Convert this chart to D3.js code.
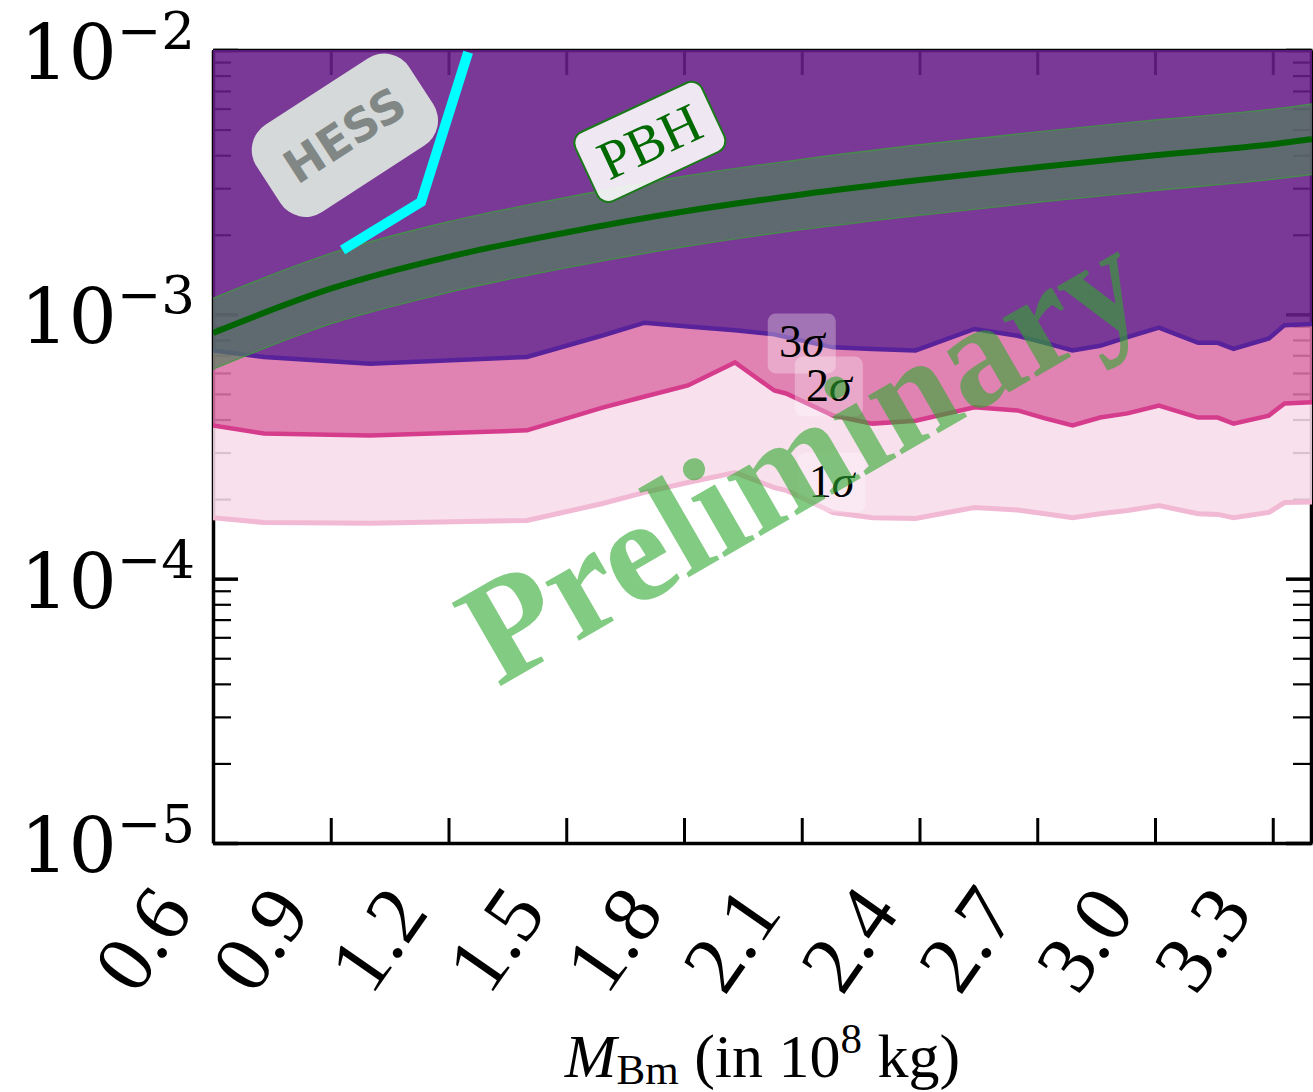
<!DOCTYPE html>
<html>
<head>
<meta charset="utf-8">
<script src="https://cdn.jsdelivr.net/npm/d3@7"></script>
<style>
  body { margin: 0; background: #fff; }
  svg { display: block; }
</style>
</head>
<body>
<svg id="chart"></svg>
<script>
// ---- data ----
const massX  = [0.60, 0.73, 1.00, 1.40, 1.59, 1.70, 1.81, 1.93, 2.03, 2.06, 2.18, 2.28, 2.39,
                2.54, 2.65, 2.72, 2.79, 2.86, 2.93, 3.01, 3.11, 3.16, 3.20, 3.29, 3.33, 3.40];
const sigma3 = [7.3e-4, 6.9e-4, 6.5e-4, 6.9e-4, 8.3e-4, 9.3e-4, 9.0e-4, 8.7e-4, 8.4e-4, 8.2e-4, 7.5e-4, 7.4e-4, 7.3e-4,
                8.8e-4, 8.3e-4, 7.8e-4, 7.3e-4, 7.6e-4, 8.2e-4, 8.9e-4, 7.8e-4, 7.8e-4, 7.4e-4, 8.1e-4, 9.1e-4, 9.2e-4];
const sigma2 = [3.80e-4, 3.54e-4, 3.48e-4, 3.64e-4, 4.43e-4, 4.89e-4, 5.38e-4, 6.58e-4, 5.15e-4, 5.02e-4, 4.14e-4, 3.86e-4, 3.96e-4,
                4.45e-4, 4.33e-4, 4.04e-4, 3.80e-4, 4.07e-4, 4.22e-4, 4.52e-4, 4.07e-4, 4.07e-4, 3.86e-4, 4.14e-4, 4.60e-4, 4.65e-4];
const sigma1 = [1.70e-4, 1.63e-4, 1.62e-4, 1.66e-4, 1.92e-4, 2.12e-4, 2.31e-4, 2.52e-4, 2.21e-4, 2.16e-4, 1.78e-4, 1.70e-4, 1.69e-4,
                1.86e-4, 1.82e-4, 1.76e-4, 1.70e-4, 1.76e-4, 1.81e-4, 1.89e-4, 1.76e-4, 1.75e-4, 1.70e-4, 1.78e-4, 1.94e-4, 1.95e-4];

const pbhX     = [0.6, 0.9, 1.2, 1.5, 1.8, 2.1, 2.4, 2.7, 3.0, 3.3, 3.4];
const pbhMid   = [8.5e-4, 1.25e-3, 1.65e-3, 2.04e-3, 2.45e-3, 2.84e-3, 3.22e-3, 3.60e-3, 4.00e-3, 4.40e-3, 4.60e-3];
const pbhUpper = [1.15e-3, 1.70e-3, 2.24e-3, 2.77e-3, 3.33e-3, 3.86e-3, 4.38e-3, 4.90e-3, 5.44e-3, 5.98e-3, 6.26e-3];
const pbhLower = [6.2e-4, 9.2e-4, 1.21e-3, 1.50e-3, 1.80e-3, 2.09e-3, 2.37e-3, 2.65e-3, 2.94e-3, 3.24e-3, 3.38e-3];

const hessX = [0.93, 1.13, 1.25];
const hessY = [1.75e-3, 2.66e-3, 9.8e-3];

const xTicks = [0.6, 0.9, 1.2, 1.5, 1.8, 2.1, 2.4, 2.7, 3.0, 3.3];
const xTickLabels = ['0.6', '0.9', '1.2', '1.5', '1.8', '2.1', '2.4', '2.7', '3.0', '3.3'];
const yTicks = [1e-5, 1e-4, 1e-3, 1e-2];
const yTickExp = ['\u22125', '\u22124', '\u22123', '\u22122'];

// ---- setup ----
const W = 1313, H = 1092;
const svg = d3.select('#chart').attr('width', W).attr('height', H);

const x = d3.scaleLinear().domain([0.6, 3.4]).range([213, 1312]);
const y = d3.scaleLog().domain([1e-5, 1e-2]).range([843, 50]);

const yMinor = [];
yTicks.slice(0, -1).forEach(d => { for (let k = 2; k < 10; k++) yMinor.push(d * k); });

svg.append('clipPath').attr('id', 'plot-clip')
  .append('rect')
  .attr('x', x(0.6)).attr('y', y(1e-2))
  .attr('width', x(3.4) - x(0.6)).attr('height', y(1e-5) - y(1e-2));

// ---- axes (drawn first, fills sit over them) ----
function styleAxis(g, tw) {
  g.select('.domain').attr('stroke', '#000').attr('stroke-width', 3.5);
  g.selectAll('.tick line').attr('stroke', '#000').attr('stroke-width', tw);
}

const xAxisG = svg.append('g')
  .attr('transform', `translate(0,${y(1e-5)})`)
  .call(d3.axisBottom(x).tickValues(xTicks).tickSizeInner(-25).tickSizeOuter(0)
    .tickFormat((d, i) => xTickLabels[i]));
styleAxis(xAxisG, 3);
xAxisG.selectAll('.tick text')
  .attr('x', 0).attr('y', 0).attr('dy', 0)
  .attr('text-anchor', 'end')
  .attr('transform', 'translate(-19,70) rotate(-55)')
  .attr('fill', '#000')
  .style('font-family', '"Liberation Serif", "Times New Roman", serif')
  .style('font-size', '82px');

const topAxisG = svg.append('g')
  .attr('transform', `translate(0,${y(1e-2)})`)
  .call(d3.axisTop(x).tickValues(xTicks).tickSizeInner(-25).tickSizeOuter(0).tickFormat(''));
styleAxis(topAxisG, 3);

[['left', x(0.6)], ['right', x(3.4) - 1]].forEach(([side, px]) => {
  const mk = side === 'left' ? d3.axisLeft : d3.axisRight;
  const gMaj = svg.append('g').attr('transform', `translate(${px},0)`)
    .call(mk(y).tickValues(yTicks).tickSizeInner(-25).tickSizeOuter(0).tickFormat(''));
  styleAxis(gMaj, 3.5);
  const gMin = svg.append('g').attr('transform', `translate(${px},0)`)
    .call(mk(y).tickValues(yMinor).tickSizeInner(-18).tickSizeOuter(0).tickFormat(''));
  styleAxis(gMin, 2.2);
  gMin.select('.domain').remove();
});

// y tick labels 10^k
const yLab = svg.append('g');
yTicks.forEach((d, i) => {
  const t = yLab.append('text')
    .attr('x', 195).attr('y', y(d) + 29)
    .attr('text-anchor', 'end')
    .style('font-family', '"DejaVu Serif", serif')
    .attr('fill', '#000');
  t.append('tspan').style('font-size', '76px').text('10');
  t.append('tspan').attr('dy', -30).style('font-size', '53px').text(yTickExp[i]);
});

// x axis title
const xt = svg.append('text')
  .attr('x', (x(0.6) + x(3.4)) / 2).attr('y', 1077)
  .attr('text-anchor', 'middle')
  .style('font-family', '"Liberation Serif", "Times New Roman", serif')
  .style('font-size', '62px').attr('fill', '#000');
xt.append('tspan').style('font-style', 'italic').text('M');
xt.append('tspan').attr('dy', 7).style('font-size', '43px').text('Bm');
xt.append('tspan').attr('dy', -7).text(' (in 10');
xt.append('tspan').attr('dy', -24).style('font-size', '43px').text('8');
xt.append('tspan').attr('dy', 24).text(' kg)');

// ---- exclusion bands ----
const rows = massX.map((m, i) => ({ m, s1: sigma1[i], s2: sigma2[i], s3: sigma3[i] }));
const plot = svg.append('g').attr('clip-path', 'url(#plot-clip)');

const band = (lo, hi) => d3.area().x(d => x(d.m)).y0(d => y(lo(d))).y1(d => y(hi(d)));
plot.append('path').datum(rows).attr('d', band(d => d.s3, () => 1e-2))
  .attr('fill', '#681e88').attr('fill-opacity', 0.88);
plot.append('path').datum(rows).attr('d', band(d => d.s2, d => d.s3))
  .attr('fill', '#dc72a9').attr('fill-opacity', 0.88);
plot.append('path').datum(rows).attr('d', band(d => d.s1, d => d.s2))
  .attr('fill', '#f7dce9').attr('fill-opacity', 0.88);

const sigLine = key => d3.line().x(d => x(d.m)).y(d => y(d[key]));
plot.append('path').datum(rows).attr('d', sigLine('s1'))
  .attr('fill', 'none').attr('stroke', '#f2b9d4').attr('stroke-width', 5);
plot.append('path').datum(rows).attr('d', sigLine('s2'))
  .attr('fill', 'none').attr('stroke', '#d63c8c').attr('stroke-width', 4.5);
plot.append('path').datum(rows).attr('d', sigLine('s3'))
  .attr('fill', 'none').attr('stroke', '#58229a').attr('stroke-width', 4.5);

// ---- PBH band ----
const pbh = pbhX.map((m, i) => ({ m, mid: pbhMid[i], up: pbhUpper[i], lo: pbhLower[i] }));
const smooth = d3.curveMonotoneX;
plot.append('path').datum(pbh)
  .attr('d', d3.area().curve(smooth).x(d => x(d.m)).y0(d => y(d.lo)).y1(d => y(d.up)))
  .attr('fill', '#547f60').attr('fill-opacity', 0.7);
['up', 'lo'].forEach(k => {
  plot.append('path').datum(pbh)
    .attr('d', d3.line().curve(smooth).x(d => x(d.m)).y(d => y(d[k])))
    .attr('fill', 'none').attr('stroke', '#3e9a3e').attr('stroke-width', 1.3).attr('stroke-opacity', 0.8);
});
plot.append('path').datum(pbh)
  .attr('d', d3.line().curve(smooth).x(d => x(d.m)).y(d => y(d.mid)))
  .attr('fill', 'none').attr('stroke', '#006400').attr('stroke-width', 6);

// ---- HESS ----
plot.append('path').datum(hessX.map((m, i) => ({ m, v: hessY[i] })))
  .attr('d', d3.line().x(d => x(d.m)).y(d => y(d.v)))
  .attr('fill', 'none').attr('stroke', '#00ffff').attr('stroke-width', 10);

// ---- labels ----
const hess = svg.append('g').attr('transform', `translate(${x(0.936)},${y(4.76e-3)}) rotate(-33)`);
hess.append('rect').attr('x', -91).attr('y', -52).attr('width', 182).attr('height', 104)
  .attr('rx', 30).attr('fill', '#d5d9d9');
hess.append('text').attr('x', 0).attr('y', 16).attr('text-anchor', 'middle')
  .style('font-family', '"DejaVu Sans", sans-serif').style('font-weight', 'bold')
  .style('font-size', '46px').attr('fill', '#818785').text('HESS');

const pbhLab = svg.append('g').attr('transform', `translate(${x(1.713)},${y(4.49e-3)}) rotate(-25)`);
pbhLab.append('rect').attr('x', -70).attr('y', -38).attr('width', 140).attr('height', 76)
  .attr('rx', 12).attr('fill', '#fff').attr('fill-opacity', 0.88)
  .attr('stroke', '#1a7a1a').attr('stroke-width', 2);
pbhLab.append('text').attr('x', 0).attr('y', 18).attr('text-anchor', 'middle')
  .style('font-family', '"Liberation Serif", "Times New Roman", serif')
  .style('font-size', '55px').attr('fill', '#006a00').text('PBH');

const sigLabels = [
  { n: '3', m: 2.10, v: 7.76e-4 },
  { n: '2', m: 2.169, v: 5.33e-4 },
  { n: '1', m: 2.176, v: 2.31e-4 }
];
sigLabels.forEach(s => {
  const g = svg.append('g').attr('transform', `translate(${x(s.m)},${y(s.v)})`);
  g.append('rect').attr('x', -34).attr('y', -30).attr('width', 68).attr('height', 60)
    .attr('rx', 8).attr('fill', '#fff').attr('fill-opacity', 0.3);
  const t = g.append('text').attr('x', 0).attr('y', 14).attr('text-anchor', 'middle')
    .style('font-family', '"Liberation Serif", "Times New Roman", serif')
    .style('font-size', '46px').attr('fill', '#000');
  t.append('tspan').text(s.n);
  t.append('tspan').style('font-style', 'italic').text('\u03c3');
});

// ---- watermark ----
svg.append('text')
  .attr('transform', `translate(${x(2.16)},${y(2.01e-4)}) rotate(-30)`)
  .attr('text-anchor', 'middle')
  .style('font-family', '"Liberation Serif", "Times New Roman", serif')
  .style('font-weight', 'bold').style('font-size', '147px')
  .attr('fill', '#2ea82e').attr('fill-opacity', 0.6)
  .text('Preliminary');
</script>
</body>
</html>
